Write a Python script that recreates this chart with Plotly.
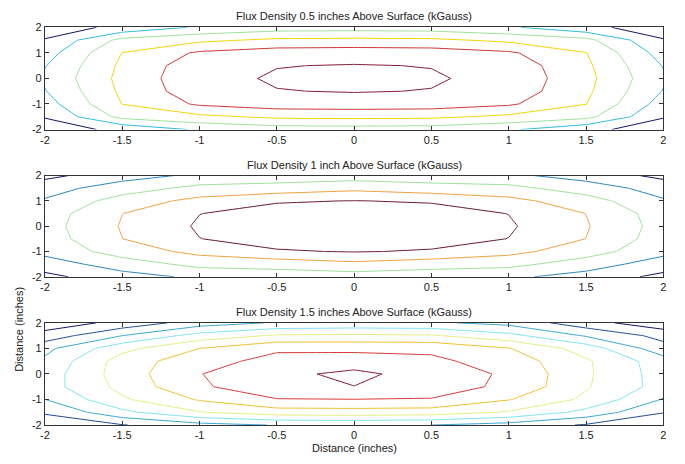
import plotly.graph_objects as go
from plotly.subplots import make_subplots

# grid positions (inches)
x_in = [-2, -1.5, -1, -0.5, 0, 0.5, 1, 1.5, 2]
y_in = [-2, -1.5, -1, -0.5, 0, 0.5, 1, 1.5, 2]

x_ticks = [-2, -1.5, -1, -0.5, 0, 0.5, 1, 1.5, 2]
x_labels = ["-2", "-1.5", "-1", "-0.5", "0", "0.5", "1", "1.5", "2"]
y_ticks = [-2, -1, 0, 1, 2]
y_labels = ["-2", "-1", "0", "1", "2"]

titles = [
    "Flux Density 0.5 inches Above Surface (kGauss)",
    "Flux Density 1 inch Above Surface (kGauss)",
    "Flux Density 1.5 inches Above Surface (kGauss)",
]

# flux density, rows go from y=-2 up to y=2
z_05 = [
    [0.60, 1.20, 2.15, 2.50, 2.55, 2.50, 2.15, 1.20, 0.60],
    [1.05, 3.30, 3.78, 4.20, 4.25, 4.20, 3.78, 3.30, 1.05],
    [1.55, 4.02, 5.15, 5.50, 5.55, 5.50, 5.15, 4.02, 1.55],
    [1.95, 4.20, 5.60, 5.97, 6.05, 5.97, 5.60, 4.20, 1.95],
    [2.15, 4.30, 5.70, 6.10, 6.20, 6.10, 5.70, 4.30, 2.15],
    [1.95, 4.20, 5.60, 5.97, 6.05, 5.97, 5.60, 4.20, 1.95],
    [1.55, 4.02, 5.15, 5.50, 5.55, 5.50, 5.15, 4.02, 1.55],
    [1.05, 3.30, 3.78, 4.20, 4.25, 4.20, 3.78, 3.30, 1.05],
    [0.60, 1.20, 2.15, 2.50, 2.55, 2.50, 2.15, 1.20, 0.60],
]

z_10 = [
    [0.74, 1.60, 2.20, 2.45, 2.50, 2.45, 2.20, 1.60, 0.74],
    [1.50, 2.50, 3.30, 3.39, 3.745, 3.39, 3.30, 2.50, 1.50],
    [2.30, 3.45, 4.30, 4.92, 5.05, 4.92, 4.30, 3.45, 2.30],
    [2.50, 3.99, 4.985, 5.35, 5.45, 5.35, 4.985, 3.99, 2.50],
    [2.60, 4.08, 5.12, 5.50, 5.60, 5.50, 5.12, 4.08, 2.60],
    [2.50, 3.99, 4.985, 5.35, 5.45, 5.35, 4.985, 3.99, 2.50],
    [2.10, 3.45, 4.30, 4.92, 5.02, 4.92, 4.30, 3.45, 2.10],
    [1.60, 2.50, 3.30, 3.39, 3.745, 3.39, 3.30, 2.50, 1.60],
    [0.74, 1.60, 2.20, 2.45, 2.50, 2.45, 2.20, 1.60, 0.74],
]

z_15 = [
    [1.475, 1.95, 2.65, 3.05, 3.10, 3.00, 2.60, 1.90, 1.05],
    [2.10, 3.75, 4.95, 5.52, 5.58, 5.50, 4.90, 3.70, 2.05],
    [2.99, 4.85, 6.10, 6.97, 6.98, 6.96, 6.05, 4.80, 2.93],
    [3.55, 5.30, 6.90, 7.45, 7.98, 7.35, 6.84, 5.10, 3.60],
    [3.48, 5.48, 6.97, 7.675, 8.30, 7.47, 6.87, 5.161, 3.548],
    [3.20, 5.45, 6.65, 7.30, 7.36, 7.20, 6.575, 5.14, 3.45],
    [2.72, 4.70, 6.00, 6.85, 6.83, 6.80, 6.05, 4.55, 2.38],
    [1.39, 3.00, 4.40, 5.12, 5.17, 5.10, 4.30, 2.90, 1.68],
    [0.415, 1.30, 2.50, 3.10, 3.22, 3.15, 2.70, 1.40, 0.32],
]

# jet-like line colours, one per contour level
colors_05 = ["#14146e", "#30b8e0", "#9ee09a", "#f2d400", "#d03434", "#801830"]
colors_10 = ["#14146e", "#2a84c0", "#9ee09a", "#f0a040", "#6a1830"]
colors_15 = ["#14146e", "#204e98", "#3aa6d6", "#80e4ee", "#e4ee80",
             "#f0c030", "#d83838", "#801830"]

panels = [(z_05, colors_05), (z_10, colors_10), (z_15, colors_15)]

fig = make_subplots(rows=3, cols=1)

for i, (z, colors) in enumerate(panels, start=1):
    n = len(colors)
    scale = [[k / (n - 1), c] for k, c in enumerate(colors)]
    fig.add_trace(
        go.Contour(
            x=x_in, y=y_in, z=z,
            zmin=1, zmax=n,
            autocontour=False,
            contours=dict(start=1, end=n, size=1, coloring="lines"),
            colorscale=scale,
            showscale=False,
            line=dict(width=1, smoothing=0),
            hoverinfo="skip",
        ),
        row=i, col=1,
    )

W, H = 685, 464
# the page draws the figure a little smaller than asked; map screen px -> paper
PX_W, PX_H, OFF_X, OFF_Y = 681.3, 451.2, 0.5, 5.7


def px(x):
    return (x - OFF_X) / PX_W


def py(y):
    return 1 - (y - OFF_Y) / PX_H


x_dom = [px(40.7), px(663)]
boxes = [(27, 129), (175, 276), (322, 424)]
font = dict(family="Liberation Sans, Arial", size=11, color="#222")

axis_style = dict(
    showline=True, mirror="ticks", linecolor="#333", linewidth=1,
    ticks="inside", ticklen=4, tickcolor="#333",
    showgrid=False, zeroline=False, tickfont=font,
)

annotations = []
for i, (top, bottom) in enumerate(boxes, start=1):
    fig.update_xaxes(
        domain=x_dom, range=[-2, 2], tickvals=x_ticks, ticktext=x_labels,
        row=i, col=1, **axis_style
    )
    fig.update_yaxes(
        domain=[py(bottom), py(top)], range=[-2, 2],
        tickvals=y_ticks, ticktext=y_labels, row=i, col=1, **axis_style
    )
    annotations.append(dict(
        text=titles[i - 1], x=(x_dom[0] + x_dom[1]) / 2, y=py(top - 11),
        xref="paper", yref="paper", showarrow=False, yanchor="middle",
        font=font,
    ))

annotations.append(dict(
    text="Distance (inches)", x=(x_dom[0] + x_dom[1]) / 2, y=py(447),
    xref="paper", yref="paper", showarrow=False, yanchor="middle",
    font=font,
))
annotations.append(dict(
    text="Distance (inches)", x=px(15), y=py(373), textangle=-90,
    xref="paper", yref="paper", showarrow=False, xanchor="center",
    font=font,
))

fig.update_layout(
    width=W, height=H,
    margin=dict(l=0, r=0, t=0, b=0),
    paper_bgcolor="white", plot_bgcolor="white",
    showlegend=False,
    annotations=annotations,
)

fig.write_html(
    "out.html",
    config={"displayModeBar": False},
    post_script="document.body.style.margin='0';",
)
